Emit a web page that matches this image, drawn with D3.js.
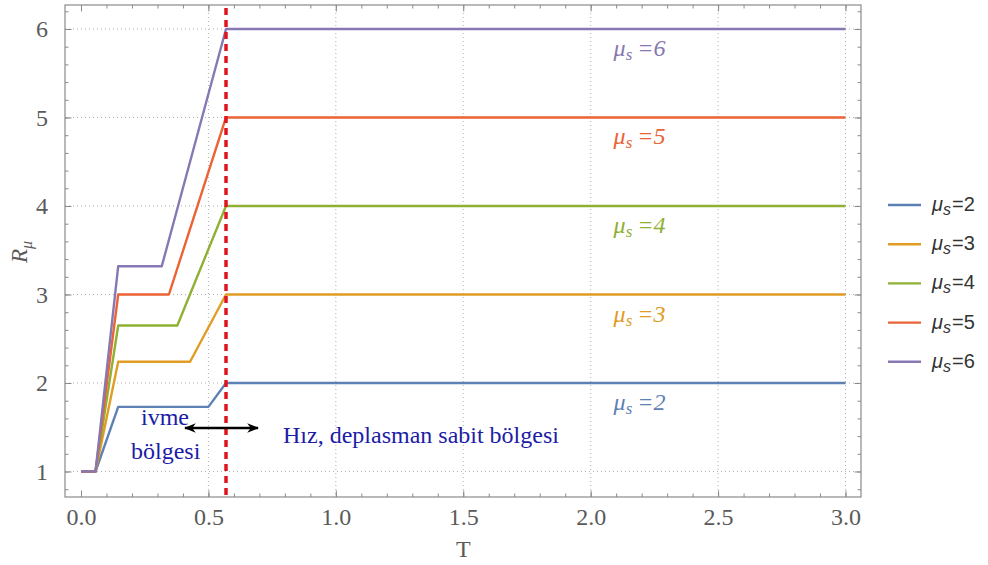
<!DOCTYPE html>
<html>
<head>
<meta charset="utf-8">
<script src="https://cdn.jsdelivr.net/npm/d3@7"></script>
<style>
  html, body { margin: 0; padding: 0; background: #fff; }
  svg { display: block; }
  .serif { font-family: "Liberation Serif", "DejaVu Serif", serif; }
</style>
</head>
<body>
<svg id="chart" width="988" height="565"></svg>
<script>
// Ductility ratio R_mu versus period T for several ductility demands
const muValues   = [2, 3, 4, 5, 6];
const seriesColors = ["#5E81B5", "#E19C24", "#8FB032", "#EB6235", "#8778B3"];
// Corner periods of each piecewise curve
const tStart     = [0, 0, 0, 0, 0];
const tFlatEnd   = [0.057, 0.057, 0.057, 0.057, 0.057];
const tRiseEnd   = [0.146, 0.146, 0.146, 0.146, 0.146];
const tPlateauEnd = [0.500, 0.428, 0.378, 0.345, 0.317];
const tCorner    = [0.569, 0.569, 0.569, 0.569, 0.569];
const tEnd       = [3.0, 3.0, 3.0, 3.0, 3.0];
// R_mu levels at those corners
const rStart     = [1, 1, 1, 1, 1];
const rPlateau   = [1.73, 2.24, 2.65, 3.00, 3.32];
const rFinal     = [2, 3, 4, 5, 6];
const cornerPeriod = 0.569;

const xMajorTicks = [0.0, 0.5, 1.0, 1.5, 2.0, 2.5, 3.0];
const xMinorTicks = d3.range(0, 31).map(i => i / 10);
const yMajorTicks = [1, 2, 3, 4, 5, 6];
const yMinorTicks = d3.range(4, 32).map(i => i / 5);
const xGridValues = [0.5, 1.0, 1.5, 2.0, 2.5, 3.0];
const yGridValues = [1, 2, 3, 4, 5, 6];

const svg = d3.select("#chart");
const L = 65, R = 861, T = 5, B = 497;

const x = d3.scaleLinear().domain([-0.0628, 3.0608]).range([L, R]);
const y = d3.scaleLinear().domain([0.712, 6.271]).range([B, T]);

const sans = "Liberation Sans, Arial, sans-serif";
const frameColor = "#8a8a8a";

// grid
const grid = svg.append("g");
grid.selectAll("line.gx").data(xGridValues).join("line")
  .attr("x1", d => x(d)).attr("x2", d => x(d))
  .attr("y1", T).attr("y2", B)
  .attr("stroke", "#b0b0b0").attr("stroke-width", 1).attr("stroke-dasharray", "1,3");
grid.selectAll("line.gy").data(yGridValues).join("line")
  .attr("x1", L).attr("x2", R)
  .attr("y1", d => y(d)).attr("y2", d => y(d))
  .attr("stroke", "#b0b0b0").attr("stroke-width", 1).attr("stroke-dasharray", "1,3");

// curves
const series = muValues.map((mu, i) => ({
  mu,
  color: seriesColors[i],
  pts: [
    [tStart[i], rStart[i]],
    [tFlatEnd[i], rStart[i]],
    [tRiseEnd[i], rPlateau[i]],
    [tPlateauEnd[i], rPlateau[i]],
    [tCorner[i], rFinal[i]],
    [tEnd[i], rFinal[i]]
  ]
}));
const line = d3.line().x(d => x(d[0])).y(d => y(d[1]));
svg.append("g").selectAll("path").data(series).join("path")
  .attr("d", d => line(d.pts))
  .attr("fill", "none")
  .attr("stroke", d => d.color)
  .attr("stroke-width", 2.4)
  .attr("stroke-linejoin", "round");

// corner period marker
svg.append("line")
  .attr("x1", x(cornerPeriod)).attr("x2", x(cornerPeriod))
  .attr("y1", T + 3).attr("y2", B)
  .attr("stroke", "#e0141e").attr("stroke-width", 3.5)
  .attr("stroke-dasharray", "7,5");

// frame axes with inward ticks
function frameAxis(axisFn, scale, major, minor, transform, showLabels, pad) {
  const gMinor = svg.append("g").attr("transform", transform)
    .call(axisFn(scale).tickValues(minor).tickSize(-3.5).tickFormat(""));
  const gMajor = svg.append("g").attr("transform", transform)
    .call(axisFn(scale).tickValues(major).tickSize(-6.5).tickPadding(pad)
      .tickFormat(showLabels ? (axisFn === d3.axisBottom ? d3.format(".1f") : d3.format("d")) : ""));
  [gMinor, gMajor].forEach(g => {
    g.select(".domain").remove();
    g.selectAll(".tick line").attr("stroke", frameColor).attr("stroke-width", 1);
    g.attr("font-family", null).attr("font-size", null);
    g.selectAll("text").attr("class", "serif").attr("font-size", 24).attr("fill", "#5a5a5a");
  });
  return gMajor;
}
frameAxis(d3.axisBottom, x, xMajorTicks, xMinorTicks, `translate(0,${B})`, true, 11);
frameAxis(d3.axisTop, x, xMajorTicks, xMinorTicks, `translate(0,${T})`, false, 3);
frameAxis(d3.axisLeft, y, yMajorTicks, yMinorTicks, `translate(${L},0)`, true, 17);
frameAxis(d3.axisRight, y, yMajorTicks, yMinorTicks, `translate(${R},0)`, false, 3);

svg.append("rect")
  .attr("x", L).attr("y", T).attr("width", R - L).attr("height", B - T)
  .attr("fill", "none").attr("stroke", frameColor).attr("stroke-width", 1.2);

// axis titles
svg.append("text").attr("class", "serif")
  .attr("x", x(1.5)).attr("y", 557)
  .attr("text-anchor", "middle")
  .attr("font-size", 24).attr("fill", "#5a5a5a")
  .text("T");
const yTitle = svg.append("text").attr("class", "serif")
  .attr("transform", "translate(27,252) rotate(-90)")
  .attr("text-anchor", "middle")
  .attr("font-size", 23).attr("font-style", "italic").attr("fill", "#5a5a5a");
yTitle.append("tspan").text("R");
yTitle.append("tspan").attr("font-size", 16).attr("dy", 5).text("μ");

// in-plot curve labels
const lbl = svg.append("g").selectAll("text").data(series).join("text")
  .attr("class", "serif")
  .attr("x", x(2.09)).attr("y", d => y(d.mu) + 27)
  .attr("font-size", 24).attr("font-style", "italic")
  .attr("fill", d => d.color);
lbl.append("tspan").text("μ");
lbl.append("tspan").attr("font-size", 17).attr("dy", 4).text("s");
lbl.append("tspan").attr("dy", -4).attr("dx", 5).text(d => "=" + d.mu);

// legend
const legend = svg.append("g").selectAll("g").data(series).join("g")
  .attr("transform", (d, i) => `translate(888,${205 + i * 39.2})`);
legend.append("line")
  .attr("x1", 0).attr("x2", 33).attr("y1", 0).attr("y2", 0)
  .attr("stroke", d => d.color).attr("stroke-width", 2.4);
const legText = legend.append("text")
  .attr("x", 44).attr("y", 6)
  .attr("font-family", sans).attr("font-size", 20).attr("fill", "#333");
legText.append("tspan").attr("font-style", "italic").text("μ");
legText.append("tspan").attr("font-style", "italic").attr("font-size", 16).attr("dy", 4).text("s");
legText.append("tspan").attr("dy", -4).attr("dx", 1).text(d => "=" + d.mu);

// region annotations
const annColor = "#1c1ca6";
svg.append("text").attr("class", "serif").attr("x", 141).attr("y", 425)
  .attr("font-size", 24).attr("fill", annColor).text("ivme");
svg.append("text").attr("class", "serif").attr("x", 131).attr("y", 459)
  .attr("font-size", 24).attr("fill", annColor).text("bölgesi");
svg.append("text").attr("class", "serif").attr("x", 283).attr("y", 443)
  .attr("font-size", 24).attr("fill", annColor).text("Hız, deplasman sabit bölgesi");

const defs = svg.append("defs");
defs.append("marker").attr("id", "ah").attr("viewBox", "0 0 10 10")
  .attr("refX", 9).attr("refY", 5).attr("markerWidth", 5).attr("markerHeight", 5)
  .attr("orient", "auto-start-reverse").attr("markerUnits", "strokeWidth")
  .append("path").attr("d", "M0,1 L10,5 L0,9 L3,5 Z").attr("fill", "#000");
svg.append("line")
  .attr("x1", 185).attr("x2", 258).attr("y1", 428).attr("y2", 428)
  .attr("stroke", "#000").attr("stroke-width", 2.4)
  .attr("marker-start", "url(#ah)").attr("marker-end", "url(#ah)");
</script>
</body>
</html>
